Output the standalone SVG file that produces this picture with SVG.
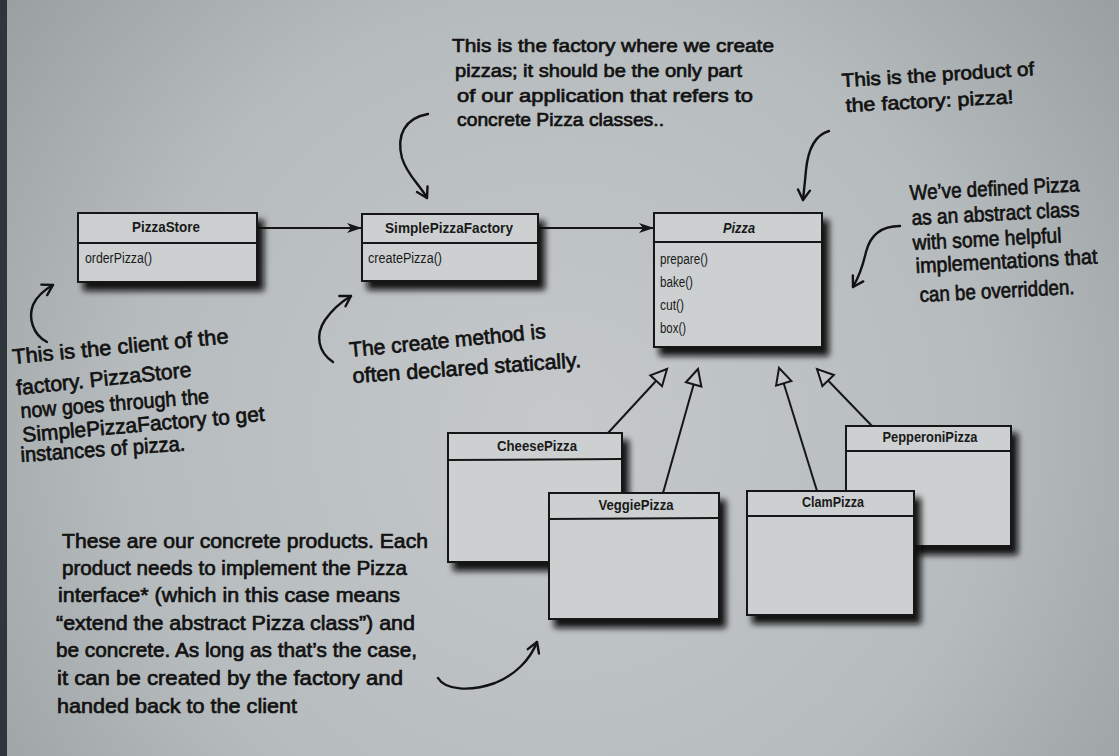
<svg xmlns="http://www.w3.org/2000/svg" width="1119" height="756" viewBox="0 0 1119 756">
<defs>
<radialGradient id="bg" cx="560" cy="430" r="720" gradientUnits="userSpaceOnUse">
<stop offset="0" stop-color="#c5c9cb"/>
<stop offset="0.6" stop-color="#b6bbbd"/>
<stop offset="1" stop-color="#989ea0"/>
</radialGradient>
<filter id="sh" x="-10%" y="-10%" width="130%" height="140%">
<feDropShadow dx="6" dy="8" stdDeviation="3" flood-color="#080808" flood-opacity="0.97"/>
</filter>
<marker id="assoc" markerUnits="userSpaceOnUse" markerWidth="16" markerHeight="12" refX="15" refY="5" orient="auto" overflow="visible">
<path d="M0,0 L15,5 L0,10 L4,5 Z" fill="#161616"/>
</marker>
<marker id="inh" markerUnits="userSpaceOnUse" markerWidth="20" markerHeight="20" refX="17" refY="9" orient="auto" overflow="visible">
<path d="M1,1 L17,9 L1,17 Z" fill="#c3c7c9" stroke="#161616" stroke-width="2" stroke-linejoin="miter"/>
</marker>
<marker id="hand" markerUnits="userSpaceOnUse" markerWidth="14" markerHeight="14" refX="10" refY="6" orient="auto" overflow="visible">
<path d="M0,0 L10,6 L0,12" fill="none" stroke="#121212" stroke-width="2.4" stroke-linecap="round" stroke-linejoin="round"/>
</marker>
<style>
.box{fill:#cdd0d1;stroke:#161616;stroke-width:2}
.div{stroke:#161616;stroke-width:2}
.cls{font-family:"Liberation Sans",Arial,sans-serif;font-weight:bold;font-size:15px;fill:#1a1a1a;text-anchor:middle}
.meth{font-family:"Liberation Sans",Arial,sans-serif;font-size:14px;fill:#1a1a1a}
.note{font-family:"Liberation Sans",Arial,sans-serif;font-size:21px;fill:#121212;stroke:#121212;stroke-width:0.7}
.top{font-size:19px}
.hand{fill:none;stroke:#121212;stroke-width:2.4;stroke-linecap:round}
.conn{stroke:#161616;stroke-width:2;fill:none}
</style>
</defs>
<rect x="0" y="0" width="1119" height="756" fill="url(#bg)"/>
<rect x="0" y="0" width="7" height="756" fill="#2f353a"/>

<g id="connectors">
<line class="conn" x1="257" y1="228" x2="362" y2="228" marker-end="url(#assoc)"/>
<line class="conn" x1="538" y1="228" x2="654" y2="228" marker-end="url(#assoc)"/>
<line class="conn" x1="608" y1="433" x2="667" y2="369" marker-end="url(#inh)"/>
<line class="conn" x1="663" y1="493" x2="698" y2="369" marker-end="url(#inh)"/>
<line class="conn" x1="817" y1="491" x2="779" y2="368" marker-end="url(#inh)"/>
<line class="conn" x1="872" y1="426" x2="817" y2="369" marker-end="url(#inh)"/>
</g>

<g id="PizzaStore">
<rect class="box" x="78" y="213" width="179" height="69" filter="url(#sh)"/>
<line class="div" x1="78" y1="243" x2="257" y2="243"/>
<text class="cls" x="166" y="232" textLength="68" lengthAdjust="spacingAndGlyphs">PizzaStore</text>
<text class="meth" x="85" y="263" textLength="67" lengthAdjust="spacingAndGlyphs">orderPizza()</text>
</g>

<g id="SimplePizzaFactory">
<rect class="box" x="362" y="214" width="176" height="67" filter="url(#sh)"/>
<line class="div" x1="362" y1="243" x2="538" y2="243"/>
<text class="cls" x="449" y="233" textLength="128" lengthAdjust="spacingAndGlyphs">SimplePizzaFactory</text>
<text class="meth" x="368" y="263" textLength="74" lengthAdjust="spacingAndGlyphs">createPizza()</text>
</g>

<g id="Pizza">
<rect class="box" x="654" y="213" width="168" height="134" filter="url(#sh)"/>
<line class="div" x1="654" y1="242" x2="822" y2="242"/>
<text class="cls" x="739" y="233" font-style="italic" textLength="32" lengthAdjust="spacingAndGlyphs">Pizza</text>
<text class="meth" x="660" y="264" textLength="48" lengthAdjust="spacingAndGlyphs">prepare()</text>
<text class="meth" x="660" y="287" textLength="33" lengthAdjust="spacingAndGlyphs">bake()</text>
<text class="meth" x="660" y="310" textLength="24" lengthAdjust="spacingAndGlyphs">cut()</text>
<text class="meth" x="660" y="333" textLength="26" lengthAdjust="spacingAndGlyphs">box()</text>
</g>

<g id="CheesePizza">
<rect class="box" x="448" y="433" width="174" height="129" filter="url(#sh)"/>
<line class="div" x1="448" y1="460" x2="622" y2="459"/>
<text class="cls" x="537" y="451" textLength="80" lengthAdjust="spacingAndGlyphs">CheesePizza</text>
</g>

<g id="VeggiePizza">
<rect class="box" x="549" y="493" width="170" height="126" filter="url(#sh)"/>
<line class="div" x1="549" y1="519" x2="719" y2="518"/>
<text class="cls" x="636" y="510" textLength="75" lengthAdjust="spacingAndGlyphs">VeggiePizza</text>
</g>

<g id="PepperoniPizza">
<rect class="box" x="846" y="426" width="165" height="120" filter="url(#sh)"/>
<line class="div" x1="846" y1="451" x2="1011" y2="451"/>
<text class="cls" x="930" y="442" textLength="95" lengthAdjust="spacingAndGlyphs">PepperoniPizza</text>
</g>

<g id="ClamPizza">
<rect class="box" x="747" y="491" width="167" height="124" filter="url(#sh)"/>
<line class="div" x1="747" y1="516" x2="914" y2="516"/>
<text class="cls" x="833" y="507" textLength="62" lengthAdjust="spacingAndGlyphs">ClamPizza</text>
</g>

<g id="note-factory">
<text class="note top" x="452" y="52" textLength="322" lengthAdjust="spacingAndGlyphs">This is the factory where we create</text>
<text class="note top" x="455" y="77" textLength="287" lengthAdjust="spacingAndGlyphs">pizzas; it should be the only part</text>
<text class="note top" x="457" y="102" textLength="296" lengthAdjust="spacingAndGlyphs">of our application that refers to</text>
<text class="note top" x="457" y="126" textLength="207" lengthAdjust="spacingAndGlyphs">concrete Pizza classes..</text>
<path class="hand" d="M428,114 C405,118 396,135 402,158 C407,175 420,185 427,198" marker-end="url(#hand)"/>
</g>

<g id="note-product">
<text class="note top" x="842" y="87" transform="rotate(-3.5 842 87)" textLength="193" lengthAdjust="spacingAndGlyphs">This is the product of</text>
<text class="note top" x="846" y="112" transform="rotate(-3 846 112)" textLength="168" lengthAdjust="spacingAndGlyphs">the factory: pizza!</text>
<path class="hand" d="M829,131 C815,135 808,150 806,170 C805,182 804,190 803,200" marker-end="url(#hand)"/>
</g>

<g id="note-abstract">
<text class="note" x="910" y="200" transform="rotate(-3 910 200)" textLength="170" lengthAdjust="spacingAndGlyphs">We’ve defined Pizza</text>
<text class="note" x="912" y="225" transform="rotate(-3 912 225)" textLength="168" lengthAdjust="spacingAndGlyphs">as an abstract class</text>
<text class="note" x="913" y="250" transform="rotate(-3 913 250)" textLength="149" lengthAdjust="spacingAndGlyphs">with some helpful</text>
<text class="note" x="916" y="273" transform="rotate(-3 916 273)" textLength="182" lengthAdjust="spacingAndGlyphs">implementations that</text>
<text class="note" x="920" y="302" transform="rotate(-3 920 302)" textLength="155" lengthAdjust="spacingAndGlyphs">can be overridden.</text>
<path class="hand" d="M900,226 C880,226 870,236 866,252 C863,265 860,275 853,287" marker-end="url(#hand)"/>
</g>

<g id="note-client">
<text class="note" x="13" y="364" transform="rotate(-5.5 13 364)" textLength="217" lengthAdjust="spacingAndGlyphs">This is the client of the</text>
<text class="note" x="17" y="395" transform="rotate(-6 17 395)" textLength="176" lengthAdjust="spacingAndGlyphs">factory. PizzaStore</text>
<text class="note" x="21" y="418" transform="rotate(-4.5 21 418)" textLength="189" lengthAdjust="spacingAndGlyphs">now goes through the</text>
<text class="note" x="23" y="442" transform="rotate(-5 23 442)" textLength="243" lengthAdjust="spacingAndGlyphs">SimplePizzaFactory to get</text>
<text class="note" x="21" y="462" transform="rotate(-4 21 462)" textLength="165" lengthAdjust="spacingAndGlyphs">instances of pizza.</text>
<path class="hand" d="M47,342 C33,335 28,318 33,305 C37,296 44,290 53,285" marker-end="url(#hand)"/>
</g>

<g id="note-static">
<text class="note" x="350" y="357" transform="rotate(-5.5 350 357)" textLength="197" lengthAdjust="spacingAndGlyphs">The create method is</text>
<text class="note" x="353" y="383" transform="rotate(-4 353 383)" textLength="229" lengthAdjust="spacingAndGlyphs">often declared statically.</text>
<path class="hand" d="M333,362 C318,352 315,335 325,320 C332,310 341,302 351,296" marker-end="url(#hand)"/>
</g>

<g id="note-concrete">
<text class="note" x="62" y="548" textLength="366" lengthAdjust="spacingAndGlyphs">These are our concrete products. Each</text>
<text class="note" x="62" y="575" textLength="345" lengthAdjust="spacingAndGlyphs">product needs to implement the Pizza</text>
<text class="note" x="58" y="602" textLength="342" lengthAdjust="spacingAndGlyphs">interface* (which in this case means</text>
<text class="note" x="56" y="630" textLength="359" lengthAdjust="spacingAndGlyphs">“extend the abstract Pizza class”) and</text>
<text class="note" x="56" y="657" textLength="361" lengthAdjust="spacingAndGlyphs">be concrete. As long as that’s the case,</text>
<text class="note" x="57" y="685" textLength="346" lengthAdjust="spacingAndGlyphs">it can be created by the factory and</text>
<text class="note" x="57" y="713" textLength="240" lengthAdjust="spacingAndGlyphs">handed back to the client</text>
<path class="hand" d="M438,678 C445,690 470,692 495,683 C515,675 530,660 537,642" marker-end="url(#hand)"/>
</g>
</svg>
